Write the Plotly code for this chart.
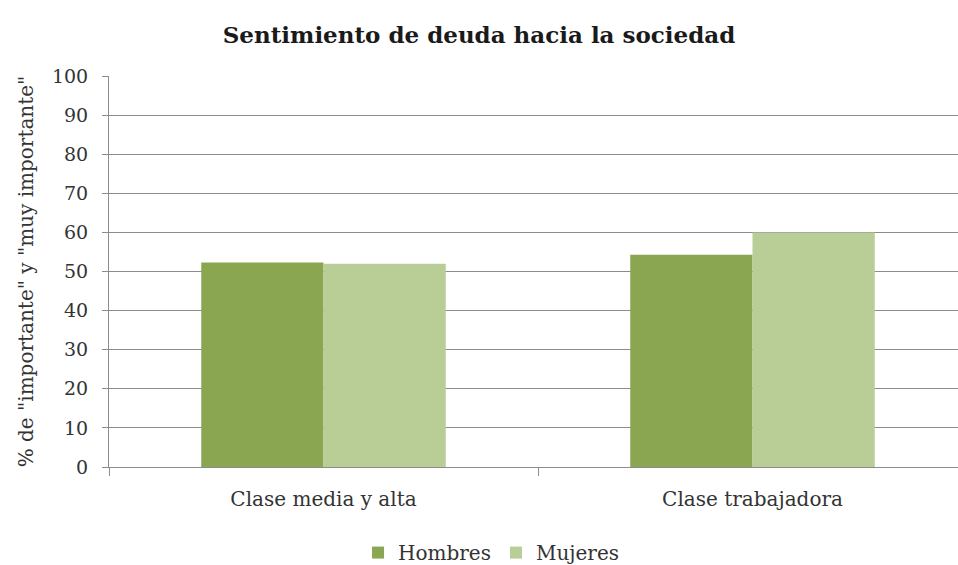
import plotly.graph_objects as go

categories = ["Clase media y alta", "Clase trabajadora"]
hombres = [52.3, 54.3]
mujeres = [52.0, 60.0]
series_names = ["Hombres", "Mujeres"]
colors = ["#8aa651", "#b9cd96"]

FONT = "DejaVu Serif"

fig = go.Figure()
for name, vals, c in zip(series_names, [hombres, mujeres], colors):
    fig.add_trace(go.Bar(x=categories, y=vals, name=name, marker=dict(color=c, line=dict(width=0))))

fig.update_layout(
    width=958, height=565,
    margin=dict(l=109, r=0, t=76, b=98),
    paper_bgcolor="white", plot_bgcolor="white",
    barmode="group", bargap=0.43, bargroupgap=0,
    title=dict(text="<b>Sentimiento de deuda hacia la sociedad</b>", x=0.5, xanchor="center",
               y=0.938, yanchor="middle", font=dict(family=FONT, size=23, color="#1a1a1a")),
    font=dict(family=FONT, size=19, color="#333"),
    legend=dict(orientation="h", x=0.45, xanchor="center", yref="container", y=0.022,
                yanchor="middle",
                font=dict(family=FONT, size=20, color="#333"), itemwidth=30,
                traceorder="normal"),
    showlegend=True,
)
fig.update_yaxes(range=[0, 100], dtick=10, showgrid=True, gridcolor="#8c8c8c", gridwidth=1,
                 showline=True, linecolor="#8c8c8c", linewidth=1, ticks="outside", ticklen=6,
                 tickcolor="#8c8c8c", zeroline=False, automargin=False,
                 ticklabelstandoff=10,
                 title=dict(text='% de "importante" y "muy importante"', standoff=12,
                            font=dict(family=FONT, size=20, color="#333")),
                 tickfont=dict(family=FONT, size=19, color="#333"))
fig.update_xaxes(range=[-0.5, 1.479], showline=True, linecolor="#8c8c8c", linewidth=1,
                 ticks="outside", tickson="boundaries", ticklen=8, tickcolor="#8c8c8c",
                 automargin=False, ticklabelstandoff=14,
                 tickfont=dict(family=FONT, size=20, color="#333"))

fig.write_html("out.html")
